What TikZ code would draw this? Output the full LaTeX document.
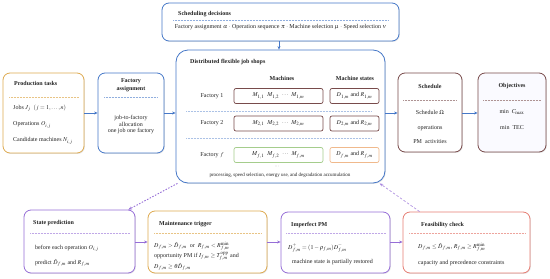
\documentclass[tikz,border=0pt]{standalone}
\usepackage{mathptmx}
\usepackage[no-math]{fontspec}
\setmainfont{Liberation Serif}
\usetikzlibrary{arrows.meta,shadows,calc}
\definecolor{cblue}{RGB}{70,120,200}
\definecolor{corange}{RGB}{222,170,80}
\definecolor{clorange}{RGB}{240,185,140}
\definecolor{cmaroon}{RGB}{120,75,75}
\definecolor{cpurple}{RGB}{150,110,215}
\definecolor{cred}{RGB}{230,125,115}
\definecolor{cgreen}{RGB}{165,205,140}
\definecolor{ctext}{RGB}{35,35,35}
\begin{document}
\begin{tikzpicture}[x=1pt,y=-1pt,
  font=\fontsize{6}{7}\selectfont, text=ctext,
  card/.style={draw, rounded corners=7pt, fill=white, line width=0.8pt,
    drop shadow={opacity=0.22, shadow xshift=0.8pt, shadow yshift=-0.9pt}, inner sep=0pt},
  cell/.style={draw, rounded corners=2pt, fill=white, line width=0.7pt, inner sep=0pt,
    minimum height=15pt},
  ttl/.style={font=\fontsize{6}{7}\selectfont\bfseries, anchor=west, inner sep=0pt},
  ttlc/.style={font=\fontsize{6}{7.5}\selectfont\bfseries, align=center, inner sep=0pt},
  txt/.style={anchor=west, inner sep=0pt},
  txtc/.style={inner sep=0pt, align=center},
  sep/.style={densely dotted, line width=0.5pt},
  arr/.style={-{Stealth[length=3.5pt,width=3pt]}, line width=0.8pt},
]
\useasboundingbox (0,0) rectangle (550,279);

% ---- top: scheduling decisions
\node[card, draw=cblue, minimum width=237pt, minimum height=38pt] (sched) at (280.5,22) {};
\node[ttl] (schedT) at (178,14) {Scheduling decisions};
\draw[sep, cblue!60] (173,20) -- (388,20);
\node[txtc] (schedL) at (280.5,27) {Factory assignment $\alpha$ $\cdot$ Operation sequence $\pi$ $\cdot$ Machine selection $\mu$ $\cdot$ Speed selection $\nu$};

% ---- distributed job shops
\node[card, draw=cblue, rounded corners=12pt, minimum width=209pt, minimum height=133pt] (dist) at (280.5,116.5) {};
\node[ttl] (distT) at (190,62) {Distributed flexible job shops};
\node[ttlc] (hM) at (282,78) {Machines};
\node[ttlc] (hS) at (355,78) {Machine states};
\node[txtc] (f1) at (212,96) {Factory 1};
\node[cell, draw=cmaroon, minimum width=89pt] (m1) at (278.5,96) {$M_{1,1}$\enspace $M_{1,2}$\enspace $\cdots$\enspace $M_{1,m}$};
\node[cell, draw=cmaroon, minimum width=49pt] (s1) at (354.5,96) {$D_{1,m}$ and $R_{1,m}$};
\draw[sep, cblue!45] (186,111) -- (372,111);
\node[txtc] (f2) at (212,123.5) {Factory 2};
\node[cell, draw=cmaroon, minimum width=89pt] (m2) at (278.5,123.5) {$M_{2,1}$\enspace $M_{2,2}$\enspace $\cdots$\enspace $M_{2,m}$};
\node[cell, draw=cmaroon, minimum width=49pt] (s2) at (354.5,123.5) {$D_{2,m}$ and $R_{2,m}$};
\draw[sep, cblue!45] (186,138) -- (372,138);
\node[txtc] (ff) at (212,155) {Factory $f$};
\node[cell, draw=cgreen, minimum width=89pt] (mf) at (278.5,155) {$M_{f,1}$\enspace $M_{f,2}$\enspace $\cdots$\enspace $M_{f,m}$};
\node[cell, draw=clorange, minimum width=49pt] (sf) at (354.5,155) {$D_{f,m}$ and $R_{f,m}$};
\node[txtc, font=\fontsize{4}{5}\selectfont] (dots) at (277,167) {$\cdots$};
\node[txtc, font=\fontsize{5}{6}\selectfont] (proc) at (280,175) {processing, speed selection, energy use, and degradation accumulation};

% ---- production tasks
\node[card, draw=corange, minimum width=81pt, minimum height=80pt] (prod) at (43.5,113) {};
\node[ttl] (prodT) at (14,83) {Production tasks};
\draw[sep, corange!70] (9,97) -- (79,97);
\node[txt] (prodA) at (13,108) {Jobs $J_j$\enspace $(j=1,\ldots,n)$};
\node[txt] (prodB) at (13,125) {Operations $O_{i,j}$};
\node[txt] (prodC) at (13,141) {Candidate machines $N_{i,j}$};

% ---- factory assignment
\node[card, draw=cblue, minimum width=66pt, minimum height=80pt] (fa) at (131,113) {};
\node[ttlc] (faT) at (131,85) {Factory\\assignment};
\draw[sep, cblue!60] (104,97) -- (158,97);
\node[txtc] (faL) at (131,125) {job-to-factory\\[-0.5pt]allocation\\[-0.5pt]one job one factory};

% ---- schedule
\node[card, draw=cmaroon, minimum width=64pt, minimum height=79pt] (schd) at (430,112.5) {};
\node[ttlc] (schdT) at (430,86) {Schedule};
\draw[sep, cmaroon!60] (403,100) -- (457,100);
\node[txtc] (schdA) at (430,112) {Schedule $\Omega$};
\node[txtc] (schdB) at (430,128) {operations};
\node[txtc] (schdC) at (430,142) {PM\enspace activities};

% ---- objectives
\node[card, draw=cmaroon, fill=blue!2, minimum width=68pt, minimum height=79pt] (obj) at (512,112.5) {};
\node[ttlc] (objT) at (512,86) {Objectives};
\draw[sep, cmaroon!60] (483,100) -- (541,100);
\node[txtc] (objA) at (512,112) {min\enspace $C_{\max}$};
\node[txtc] (objB) at (512,128) {min\enspace TEC};

% ---- bottom row
\node[card, draw=cpurple, minimum width=111pt, minimum height=63pt] (sp) at (79.5,241.5) {};
\node[ttl] (spT) at (33,223) {State prediction};
\draw[sep, cpurple!60] (30,233) -- (130,233);
\node[txt] (spA) at (35,248) {before each operation $O_{i,j}$};
\node[txt] (spB) at (35,263) {predict $\hat{D}_{f,m}$ and $R_{f,m}$};

\node[card, draw=corange, minimum width=119pt, minimum height=62pt] (mt) at (207.5,242) {};
\node[ttl] (mtT) at (159,224) {Maintenance trigger};
\draw[sep, corange!70] (154,233) -- (262,233);
\node[txt] (mtA) at (154,246) {$D_{f,m} > \hat{D}_{f,m}$\enspace or\enspace $R_{f,m} < R^{\min}_{f,m}$};
\node[txt] (mtB) at (154,256.5) {opportunity PM if $I_{f,m} \ge T^{\mathrm{opp}}_{f,m}$ and};
\node[txt] (mtC) at (154,267) {$D_{f,m} \ge \theta\hat{D}_{f,m}$};

\node[card, draw=cpurple, minimum width=109pt, minimum height=61pt] (ipm) at (335.5,242.5) {};
\node[ttl] (ipmT) at (291,225) {Imperfect PM};
\draw[sep, cpurple!60] (286,233) -- (386,233);
\node[txt] (ipmA) at (288,248) {$D^{+}_{f,m} = (1-\rho_{f,m})D^{-}_{f,m}$};
\node[txt] (ipmB) at (292,262) {machine state is partially restored};

\node[card, draw=cred, minimum width=127pt, minimum height=61pt] (fc) at (466.5,242.5) {};
\node[ttl] (fcT) at (421,225) {Feasibility check};
\draw[sep, cred!70] (409,233) -- (525,233);
\node[txt] (fcA) at (418,247) {$D_{f,m} \le \hat{D}_{f,m}$, $R_{f,m} \ge R^{\min}_{f,m}$};
\node[txt] (fcB) at (418,263) {capacity and precedence constraints};

% ---- connectors
\draw[arr, cblue] (prod.east |- 0,113) -- (fa.west |- 0,113);
\draw[arr, cblue] (fa.east |- 0,113) -- (dist.west |- 0,113);
\draw[arr, cblue] (sched.south -| 279,0) -- (dist.north -| 279,0);
\draw[arr, cblue] (dist.east |- 0,113) -- (schd.west |- 0,113);
\draw[arr, cblue] (schd.east |- 0,113) -- (obj.west |- 0,113);
\draw[arr, cpurple] (sp.east |- 0,242) -- (mt.west |- 0,242);
\draw[arr, cpurple] (mt.east |- 0,242) -- (ipm.west |- 0,242);
\draw[arr, cpurple] (ipm.east |- 0,242) -- (fc.west |- 0,242);
\draw[arr, cpurple, line width=0.9pt, dash pattern=on 1.5pt off 1.5pt] (dist.213) -- ($(sp.north east)+(-7,0)$);
\draw[arr, cpurple!85, line width=0.6pt, dash pattern=on 2.5pt off 1.8pt] ($(fc.north west)+(17,0)$) -- (dist.326);
\end{tikzpicture}
\end{document}
